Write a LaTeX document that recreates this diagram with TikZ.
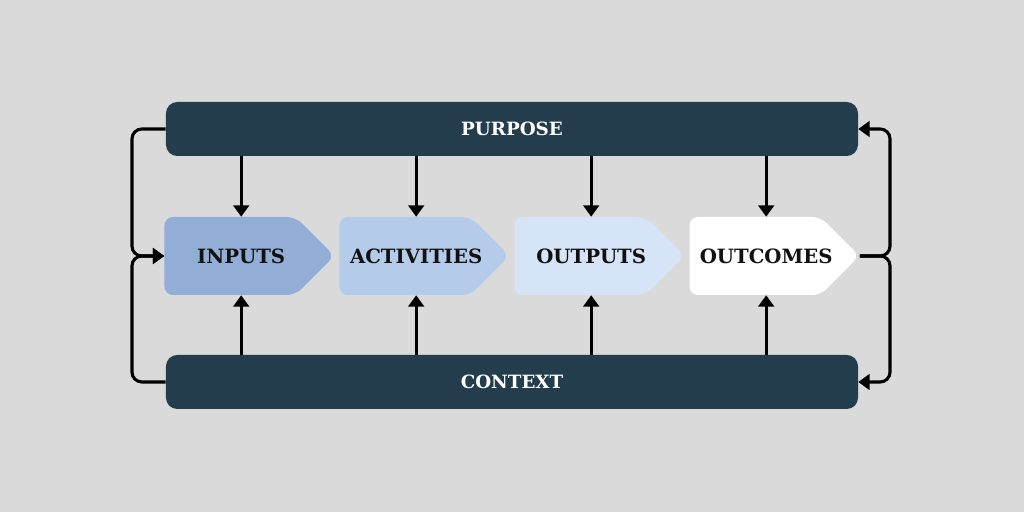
\documentclass[tikz,border=0pt]{standalone}
\usepackage{fontspec}
\setmainfont{DejaVu Serif}
\usetikzlibrary{arrows.meta, positioning, shapes.symbols, calc}
\definecolor{fundo}{RGB}{218, 218, 218}
\definecolor{barraescura}{RGB}{35, 61, 77}
\definecolor{azulinputs}{RGB}{146, 174, 214}
\definecolor{azulactivities}{RGB}{180, 204, 234}
\definecolor{azuloutputs}{RGB}{214, 228, 247}
\definecolor{textoescuro}{RGB}{17, 17, 17}

\begin{document}
\begin{tikzpicture}[
    every node/.style={font=\fontsize{14}{16}\selectfont\bfseries},
    bandbox/.style={
        rectangle,
        rounded corners=8pt,
        fill=barraescura,
        text=white,
        font=\fontsize{13}{15}\selectfont\bfseries,
        minimum width=17.3cm,
        minimum height=1.35cm,
        inner sep=0pt
    },
    stagebox/.style={
        signal,
        signal to=east,
        signal pointer angle=90,
        rounded corners=6pt,
        minimum width=4.25cm,
        minimum height=1.95cm,
        inner sep=0pt
    },
    stagetext/.style={
        text=textoescuro,
        xshift=0.28cm
    },
    flowline/.style={
        line width=2.2pt,
        -{Triangle[length=8pt, width=11pt]}
    }
]

\fill[fundo] (-12.8,-6.4) rectangle (12.8,6.4);
\useasboundingbox (-12.8,-6.4) rectangle (12.8,6.4);

% ------------------------------------------------
% Faixas de cima e de baixo
% ------------------------------------------------

\node[bandbox] (purpose) at (0,3.175) {PURPOSE};

\node[bandbox] (context) at (0,-3.15) {CONTEXT};

% ------------------------------------------------
% Etapas
% ------------------------------------------------

\node[
    stagebox,
    fill=azulinputs,
    label={[stagetext]center:INPUTS}
] (inputs) at (-7.05,0)
{};

\node[
    stagebox,
    fill=azulactivities,
    label={[stagetext]center:ACTIVITIES}
] (activities) at (-2.675,0)
{};

\node[
    stagebox,
    fill=azuloutputs,
    label={[stagetext]center:OUTPUTS}
] (outputs) at (1.7,0)
{};

\node[
    stagebox,
    fill=white,
    label={[stagetext]center:OUTCOMES}
] (outcomes) at (6.075,0)
{};

% ------------------------------------------------
% Setas verticais
% ------------------------------------------------

\foreach \etapa in {inputs, activities, outputs, outcomes} {
    \coordinate (topo) at ([xshift=0.28cm]\etapa.north);
    \coordinate (base) at ([xshift=0.28cm]\etapa.south);
    \draw[flowline] (topo |- purpose.south) -- (topo);
    \draw[flowline] (base |- context.north) -- (base);
}

% ------------------------------------------------
% Retornos laterais
% ------------------------------------------------

\coordinate (ladoesq) at (-9.5,0);
\coordinate (ladodir) at (9.45,0);

\draw[flowline, rounded corners=7pt] (purpose.west) -| (ladoesq) -- (inputs.west);
\draw[flowline, rounded corners=7pt] (context.west) -| (ladoesq) -- (inputs.west);

\draw[flowline, rounded corners=7pt] (outcomes.east) -- (ladodir) |- (purpose.east);
\draw[flowline, rounded corners=7pt] (outcomes.east) -- (ladodir) |- (context.east);

\end{tikzpicture}
\end{document}
